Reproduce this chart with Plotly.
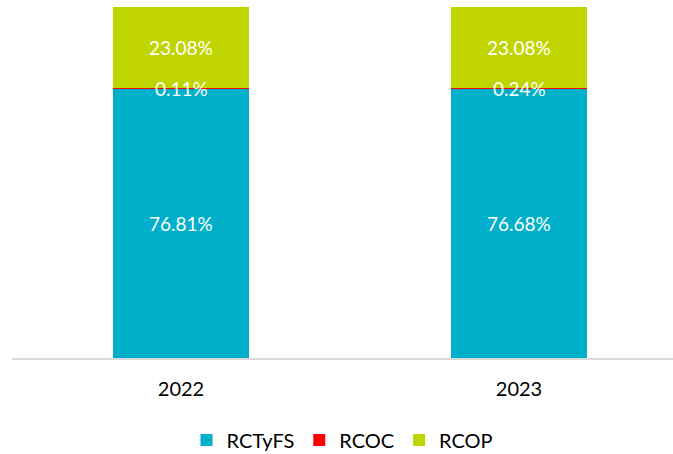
import plotly.graph_objects as go

years = ["2022", "2023"]
rctyfs = [76.81, 76.68]
rcoc = [0.11, 0.24]
rcop = [23.08, 23.08]

series = [
    ("RCTyFS", rctyfs, "#00B0CA"),
    ("RCOC", rcoc, "#FF0000"),
    ("RCOP", rcop, "#C0D500"),
]

FONT = "Lato, 'Open Sans', sans-serif"

fig = go.Figure()
for name, vals, color in series:
    fig.add_trace(go.Bar(
        x=[0, 1], y=vals, name=name, marker=dict(color=color, line=dict(width=0)),
        width=0.4, hoverinfo="skip",
    ))

# value labels, centred on each segment
annotations = []
for i in range(len(years)):
    base = 0.0
    for name, vals, color in series:
        v = vals[i]
        annotations.append(dict(
            x=i, y=base + v / 2, xref="x", yref="y", text=f"{v:.2f}%",
            showarrow=False, font=dict(family=FONT, size=19, color="white"),
        ))
        base += v

fig.update_layout(
    barmode="stack",
    width=673, height=454,
    margin=dict(l=12, r=0, t=7, b=96, autoexpand=False),
    paper_bgcolor="white", plot_bgcolor="white",
    font=dict(family=FONT, size=20, color="black"),
    annotations=annotations,
    xaxis=dict(
        range=[-0.5, -0.5 + 661 / 338], tickvals=[0, 1], ticktext=years,
        showgrid=False, zeroline=False, showline=True, linecolor="#D9D9D9", linewidth=1.5,
        ticks="", ticklabelstandoff=12, automargin=False,
        tickfont=dict(family=FONT, size=20, color="black"),
    ),
    yaxis=dict(range=[0, 100], visible=False),
    legend=dict(
        orientation="h", x=0.5, xanchor="center",
        yref="container", y=14 / 454, yanchor="middle",
        font=dict(family=FONT, size=20, color="black"), traceorder="normal",
        itemwidth=30,
    ),
    showlegend=True,
)

fig.write_html("out.html")
